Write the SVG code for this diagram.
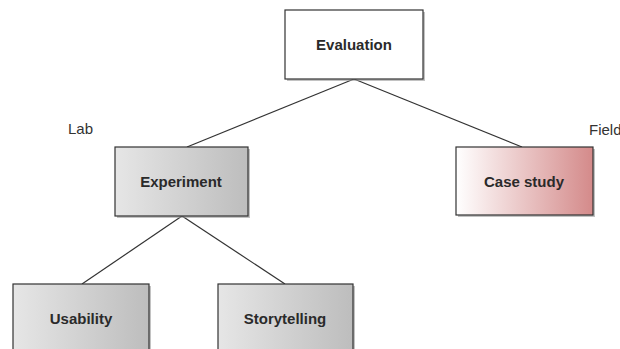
<svg xmlns="http://www.w3.org/2000/svg" width="620" height="349" viewBox="0 0 620 349">
<style>
.box{stroke:#333;stroke-width:1.2}
.lbl{font-family:"Liberation Sans",Arial,sans-serif;font-weight:bold;font-size:15px;fill:#2a2a2a;text-anchor:middle}
.side{font-family:"Liberation Sans",Arial,sans-serif;font-size:15px;fill:#333}
.conn{stroke:#333;stroke-width:1.2;fill:none}
.shadow{fill:#999;opacity:0.6}
</style>
<defs>
<linearGradient id="grey" x1="0" y1="0" x2="1" y2="0">
<stop offset="0" stop-color="#e6e6e6"/>
<stop offset="1" stop-color="#bdbdbd"/>
</linearGradient>
<linearGradient id="red" x1="0" y1="0" x2="1" y2="0">
<stop offset="0" stop-color="#ffffff"/>
<stop offset="1" stop-color="#d48a8a"/>
</linearGradient>
</defs>
<rect width="620" height="349" fill="#ffffff"/>
<g id="connectors">
<line class="conn" x1="354" y1="79" x2="187" y2="147"/>
<line class="conn" x1="354" y1="79" x2="522" y2="147"/>
<line class="conn" x1="182" y1="216" x2="82" y2="284"/>
<line class="conn" x1="182" y1="216" x2="285" y2="284"/>
</g>
<g id="evaluation">
<rect class="shadow" x="287" y="12" width="138" height="69"/>
<rect class="box" x="285" y="10" width="138" height="69" fill="#ffffff"/>
<text class="lbl" x="354" y="50">Evaluation</text>
</g>
<g id="experiment">
<rect class="shadow" x="117" y="149" width="133" height="69"/>
<rect class="box" x="115" y="147" width="133" height="69" fill="url(#grey)"/>
<text class="lbl" x="181" y="187">Experiment</text>
</g>
<g id="casestudy">
<rect class="shadow" x="458" y="149" width="137" height="68"/>
<rect class="box" x="456" y="147" width="137" height="68" fill="url(#red)"/>
<text class="lbl" x="524" y="187">Case study</text>
</g>
<g id="usability">
<rect class="shadow" x="15" y="286" width="136" height="80"/>
<rect class="box" x="13" y="284" width="136" height="80" fill="url(#grey)"/>
<text class="lbl" x="81" y="324">Usability</text>
</g>
<g id="storytelling">
<rect class="shadow" x="220" y="286" width="135" height="80"/>
<rect class="box" x="218" y="284" width="135" height="80" fill="url(#grey)"/>
<text class="lbl" x="285" y="324">Storytelling</text>
</g>
<g id="lab">
<text class="side" x="68" y="134">Lab</text>
</g>
<g id="field">
<text class="side" x="589" y="135">Field</text>
</g>
</svg>
